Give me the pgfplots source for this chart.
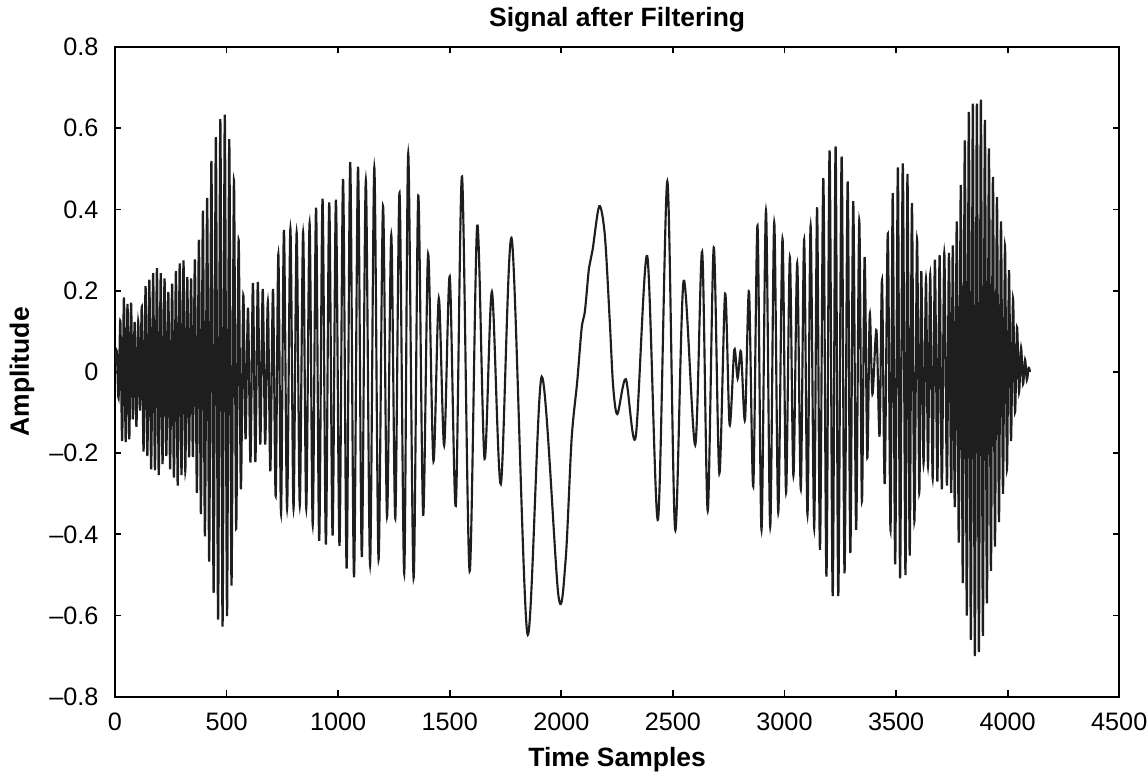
\documentclass[border=0pt]{standalone}
\usepackage{fontspec}
\setmainfont{Liberation Sans}
\usepackage{pgfplots}
\pgfplotsset{compat=1.18}
\definecolor{sig}{RGB}{30,30,30}
\begin{document}
\begin{tikzpicture}
\begin{axis}[
    scale only axis, width=398.2pt, height=257.7pt,
    xmin=0, xmax=4500, ymin=-0.8, ymax=0.8,
    xtick={0,500,1000,1500,2000,2500,3000,3500,4000,4500},
    xticklabels={0,500,1000,1500,2000,2500,3000,3500,4000,4500},
    ytick={-0.8,-0.6,-0.4,-0.2,0,0.2,0.4,0.6,0.8},
    yticklabels={--0.8,--0.6,--0.4,--0.2,0,0.2,0.4,0.6,0.8},
    scaled ticks=false,
    tick align=inside, major tick length=2.5pt,
    axis line style={line width=0.7pt, black},
    every tick/.style={line width=0.7pt, black},
    tick label style={font=\fontsize{10}{12}\selectfont},
    yticklabel style={xshift=-3pt},
    xticklabel style={yshift=-3pt},
    every axis title shift=0pt,
    title={Signal after Filtering},
    title style={font=\bfseries\fontsize{10.5}{12}\selectfont, at={(axis description cs:0.5,1.0415)}, anchor=center},
    xlabel={Time Samples},
    xlabel style={font=\bfseries\fontsize{10.5}{12}\selectfont, at={(axis description cs:0.5,-0.097)}, anchor=center},
    ylabel={Amplitude},
    ylabel style={font=\bfseries\fontsize{10.5}{12}\selectfont, at={(axis description cs:-0.0927,0.5)}, anchor=center},
  ]
  % peaks and troughs
  \addplot[sig, line width=0.85pt, smooth, no marks] coordinates {
    (0,0.02) (8,0.05) (16,-0.065) (24,0.126) (32,-0.17) (40,0.183) (48,-0.173)
    (56,0.167) (64,-0.166) (72,0.17) (80,-0.117) (88,0.123) (96,-0.135) (104,0.124)
    (112,-0.095) (120,0.16) (128,-0.196) (137,0.211) (145,-0.207) (154,0.227)
    (162,-0.24) (171,0.243) (179,-0.242) (188,0.255) (196,-0.254) (205,0.243)
    (213,-0.227) (222,0.23) (230,-0.207) (239,0.197) (247,-0.24) (256,0.217)
    (264,-0.26) (273,0.248) (281,-0.28) (290,0.267) (298,-0.254) (307,0.274)
    (315,-0.245) (324,0.233) (332,-0.21) (341,0.23) (349,-0.21) (358,0.277)
    (367,-0.298) (376,0.325) (385,-0.35) (394,0.397) (403,-0.405) (413,0.428)
    (422,-0.467) (432,0.519) (442,-0.544) (452,0.578) (462,-0.61) (472,0.622)
    (482,-0.627) (492,0.633) (502,-0.601) (512,0.573) (522,-0.526) (533,0.472)
    (543,-0.386) (554,0.325) (564,-0.289) (575,0.188) (585,-0.166) (596,0.158)
    (607,-0.223) (618,0.219) (629,-0.222) (640,0.221) (651,-0.179) (662,0.204)
    (673,-0.179) (685,0.173) (696,-0.245) (708,0.204) (720,-0.306) (732,0.29)
    (744,-0.35) (757,0.349) (771,-0.337) (786,0.353) (800,-0.337) (814,0.343)
    (828,-0.329) (843,0.343) (857,-0.337) (872,0.366) (886,-0.377) (901,0.404)
    (915,-0.416) (930,0.426) (945,-0.425) (960,0.417) (975,-0.403) (990,0.424)
    (1006,-0.428) (1022,0.475) (1038,-0.484) (1054,0.516) (1071,-0.506) (1089,0.505)
    (1106,-0.456) (1124,0.472) (1143,-0.475) (1162,0.503) (1181,-0.462) (1201,0.408)
    (1219,-0.357) (1238,0.337) (1256,-0.361) (1275,0.441) (1296,-0.497) (1314,0.538)
    (1338,-0.508) (1359,0.434) (1381,-0.352) (1403,0.29) (1427,-0.22) (1451,0.181)
    (1475,-0.181) (1500,0.235) (1527,-0.33) (1555,0.481) (1589,-0.491) (1623,0.36)
    (1656,-0.214) (1689,0.197) (1729,-0.276) (1778,0.327) (1848,-0.645) (1912,-0.012)
    (1987,-0.551) (2019,-0.465) (2046,-0.166) (2071,-0.025) (2091,0.107) (2106,0.151)
    (2124,0.256) (2140,0.30) (2170,0.408) (2195,0.336) (2217,0.125) (2232,-0.034)
    (2251,-0.104) (2289,-0.018) (2333,-0.161) (2385,0.285) (2433,-0.364) (2475,0.469)
    (2510,-0.389) (2548,0.224) (2600,-0.18) (2631,0.296) (2656,-0.342) (2683,0.306)
    (2708,-0.25) (2734,0.192) (2754,-0.13) (2775,0.054) (2790,-0.016) (2805,0.05)
    (2823,-0.118) (2841,0.198) (2860,-0.282) (2879,0.36) (2897,-0.389) (2917,0.397)
    (2936,-0.381) (2954,0.368) (2972,-0.346) (2991,0.328) (3007,-0.297) (3024,0.282)
    (3040,-0.256) (3057,0.268) (3073,-0.289) (3088,0.325) (3103,-0.352) (3117,0.36)
    (3133,-0.385) (3146,0.405) (3159,-0.438) (3174,0.477) (3188,-0.504) (3202,0.545)
    (3216,-0.552) (3229,0.555) (3241,-0.552) (3256,0.53) (3269,-0.496) (3283,0.469)
    (3295,-0.446) (3308,0.42) (3321,-0.389) (3335,0.373) (3347,-0.319) (3359,0.283)
    (3371,-0.212) (3382,0.142) (3394,-0.055) (3412,0.102) (3426,-0.157) (3437,0.226)
    (3449,-0.276) (3463,0.34) (3475,-0.39) (3485,0.44) (3496,-0.474) (3508,0.503)
    (3518,-0.508) (3530,0.513) (3542,-0.5) (3551,0.487) (3561,-0.452) (3571,0.415)
    (3582,-0.368) (3594,0.327) (3604,-0.298) (3613,0.248) (3623,-0.227) (3634,0.23)
    (3643,-0.232) (3653,0.241) (3664,-0.263) (3674,0.276) (3685,-0.27) (3695,0.287)
    (3705,-0.289) (3716,0.293) (3728,-0.28) (3737,0.293) (3747,-0.298) (3754,0.311)
    (3763,-0.333) (3772,0.37) (3781,-0.42) (3790,0.46) (3799,-0.52) (3808,0.57)
    (3817,-0.60) (3826,0.64) (3835,-0.66) (3844,0.66) (3853,-0.70) (3862,0.66)
    (3871,-0.69) (3880,0.67) (3889,-0.65) (3898,0.62) (3907,-0.57) (3916,0.55)
    (3925,-0.49) (3934,0.48) (3943,-0.43) (3952,0.43) (3961,-0.37) (3970,0.37)
    (3979,-0.30) (3988,0.31) (3997,-0.24) (4006,0.25) (4015,-0.17) (4024,0.18)
    (4033,-0.10) (4042,0.11) (4051,-0.05) (4060,0.06) (4069,-0.03) (4078,0.03)
    (4086,-0.02) (4094,0.01) (4100,0)
  };
\end{axis}
\pgfresetboundingbox
\path[use as bounding box] ([xshift=-45.6pt,yshift=-32.5pt]current axis.south west)
  rectangle ([xshift=11.4pt,yshift=18.6pt]current axis.north east);
\end{tikzpicture}
\end{document}
